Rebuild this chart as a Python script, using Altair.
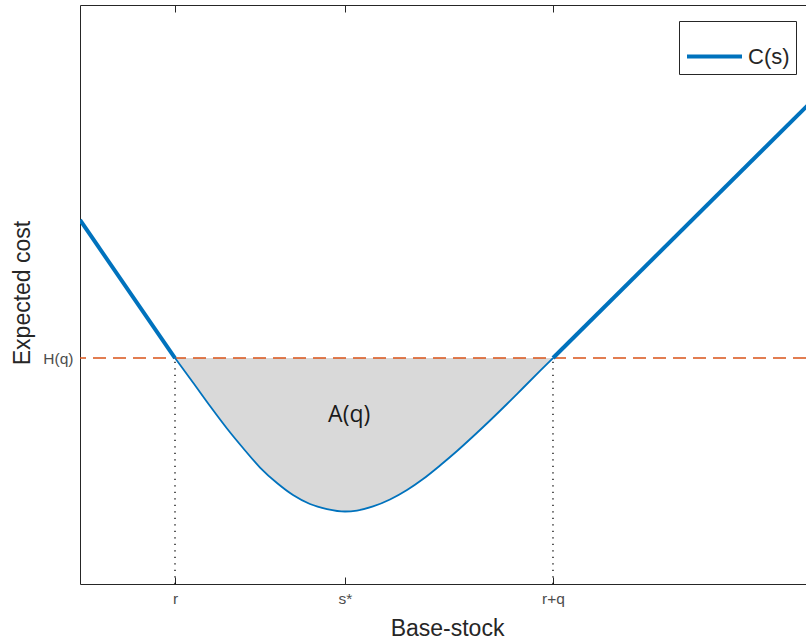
import json
import altair as alt
import pandas as pd

# ---- values (data units: x 0..~100, y 0..100) ----
r_val = 13.05        # r
s_star = 36.40       # s*
rq_val = 64.97       # r+q
H_val = 39.03        # H(q)

tick_values = [r_val, s_star, rq_val]
tick_labels = ["r", "s*", "r+q"]

# thick C(s) segments outside [r, r+q]
left_x = [0.0, 13.05]
left_y = [62.87, 39.03]
right_x = [64.97, 100.0]
right_y = [39.03, 82.73]

# C(s) inside [r, r+q] (boundary of the shaded area)
curve_x = [13.05, 15.52, 17.86, 20.19, 22.39, 24.73, 27.06, 29.26, 31.59, 33.93,
           36.40, 38.05, 40.25, 42.58, 44.92, 47.12, 49.45, 51.79, 53.98, 56.32,
           58.65, 60.85, 63.19, 64.97]
curve_y = [39.03, 34.80, 30.74, 26.86, 23.49, 20.12, 17.44, 15.37, 13.82, 12.95,
           12.52, 12.69, 13.39, 14.59, 16.23, 18.13, 20.47, 22.97, 25.47, 28.24,
           31.09, 33.85, 36.79, 39.03]

label_x = [36.98]
label_y = [27.98]
label_text = ["A(q)"]

series_name = "C(s)"

# ---- tables ----
thick_df = pd.DataFrame({
    "x": left_x + right_x,
    "y": left_y + right_y,
    "seg": ["left"] * len(left_x) + ["right"] * len(right_x),
    "series": [series_name] * (len(left_x) + len(right_x)),
})
curve_df = pd.DataFrame({"x": curve_x, "y": curve_y, "h": [H_val] * len(curve_x)})
dash_df = pd.DataFrame({"y": [H_val]})
dot_df = pd.DataFrame({"x": [r_val, rq_val], "y0": [0.0, 0.0], "y1": [H_val, H_val]})
text_df = pd.DataFrame({"x": label_x, "y": label_y, "label": label_text})

FONT = "Liberation Sans"
AX = "#262626"
BLUE = "#0072BD"
ORANGE = "#D95319"

xs = alt.Scale(domain=[0, 99.725], nice=False, zero=False)
ys = alt.Scale(domain=[0, 100], nice=False, zero=False)

label_expr = f"{json.dumps(tick_labels)}[indexof({json.dumps(tick_values)}, datum.value)]"

area = alt.Chart(curve_df).mark_area(color="#d9d9d9", interpolate="monotone").encode(
    x=alt.X("x:Q", scale=xs, axis=alt.Axis(
        orient="bottom", values=tick_values, labelExpr=label_expr,
        title="Base-stock", domain=True, domainColor=AX, domainWidth=1,
        ticks=False, tickSize=0, labelPadding=7, labelAngle=0,
        labelFont=FONT, labelFontSize=15.5, labelColor="#4d4d4d",
        titleFont=FONT, titleFontSize=23, titleFontWeight="normal",
        titleColor=AX, titleBaseline="alphabetic", titleY=51, titleX=367)),
    y=alt.Y("y:Q", scale=ys, axis=alt.Axis(
        orient="left", values=[H_val], labelExpr="'H(q)'",
        title="Expected cost", domain=True, domainColor=AX, domainWidth=1,
        ticks=False, tickSize=0, labelPadding=7,
        labelFont=FONT, labelFontSize=15.5, labelColor="#4d4d4d",
        titleFont=FONT, titleFontSize=23, titleFontWeight="normal",
        titleColor=AX, titleBaseline="alphabetic", titleX=-50.7, titleY=287.5)),
    y2="h:Q",
)

dash = alt.Chart(dash_df).mark_rule(color=ORANGE, strokeDash=[13, 7], strokeWidth=1.5).encode(
    y=alt.Y("y:Q", scale=ys, axis=None)
)

dots = alt.Chart(dot_df).mark_rule(color="black", strokeDash=[1.3, 5.2], strokeWidth=1.3).encode(
    x=alt.X("x:Q", scale=xs, axis=alt.Axis(
        orient="bottom", offset=-7, values=tick_values, domain=False, labels=False,
        ticks=True, tickSize=7, tickColor=AX, tickWidth=1, title=None)),
    y=alt.Y("y0:Q", scale=ys, axis=None),
    y2="y1:Q",
)

thin = alt.Chart(curve_df).mark_line(color=BLUE, strokeWidth=1.8, interpolate="monotone").encode(
    x=alt.X("x:Q", scale=xs, axis=alt.Axis(
        orient="top", domain=True, domainColor=AX, domainWidth=1,
        labels=False, ticks=False, tickSize=0, title=None)),
    y=alt.Y("y:Q", scale=ys, axis=None),
)

thick = alt.Chart(thick_df).mark_line(strokeWidth=4, clip=True).encode(
    x=alt.X("x:Q", scale=xs, axis=alt.Axis(
        orient="top", offset=-7, values=tick_values, domain=False, labels=False,
        ticks=True, tickSize=7, tickColor=AX, tickWidth=1, title=None)),
    y=alt.Y("y:Q", scale=ys, axis=None),
    color=alt.Color("series:N", scale=alt.Scale(domain=[series_name], range=[BLUE]),
                    legend=alt.Legend(
                        title=None, orient="none", legendX=599, legendY=16,
                        symbolType="stroke", symbolSize=3025, symbolStrokeWidth=4,
                        labelFont=FONT, labelFontSize=22, labelColor=AX,
                        labelOffset=4, padding=6, strokeColor=AX, fillColor="white")),
    detail="seg:N",
)

text = alt.Chart(text_df).mark_text(
    font="Open Sans", fontSize=23, color="#1a1a1a", align="center", baseline="alphabetic"
).encode(
    x=alt.X("x:Q", scale=xs, axis=None),
    y=alt.Y("y:Q", scale=ys, axis=None),
    text="label:N",
)

chart = (
    alt.layer(area, dash, dots, thin, thick, text)
    .resolve_axis(x="independent", y="independent")
    .properties(
        width=726, height=579,
        padding={"left": 80, "top": 5, "right": 0, "bottom": 60},
        autosize=alt.AutoSizeParams(type="none"),
    )
    .configure_view(stroke=None)
    .configure_axis(grid=False)
)

chart.save("out.html", embed_options={"renderer": "svg", "actions": False})
